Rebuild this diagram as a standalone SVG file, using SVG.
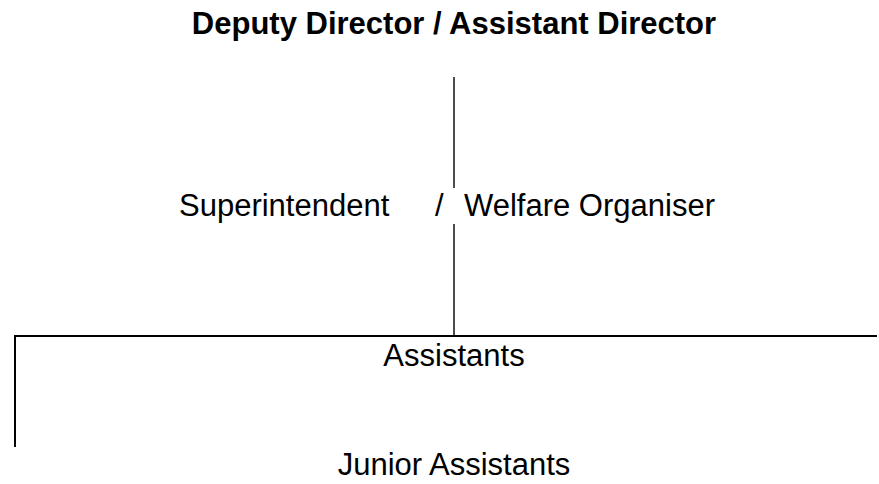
<svg xmlns="http://www.w3.org/2000/svg" width="879" height="484" viewBox="0 0 879 484">
<style>
text{font-family:"Liberation Sans",Arial,sans-serif;font-size:31px;fill:#000}
.b{font-weight:bold}
.c{text-anchor:middle}
.ln{stroke:#000;fill:none}
.thin{stroke-width:1.4}
.thick{stroke-width:2}
</style>
<rect width="879" height="484" fill="#fff"/>
<g id="connectors">
<line class="ln thin" x1="454" y1="77" x2="454" y2="188"/>
<line class="ln thin" x1="454" y1="224" x2="454" y2="336"/>
<line class="ln thick" x1="14" y1="336" x2="877" y2="336"/>
<line class="ln thick" x1="15" y1="335" x2="15" y2="447"/>
</g>
<g id="deputy-director">
<text class="b c" x="454" y="34">Deputy Director / Assistant Director</text>
</g>
<g id="superintendent">
<text x="179" y="216">Superintendent</text>
<text x="435" y="216">/</text>
<text x="464" y="216">Welfare Organiser</text>
</g>
<g id="assistants">
<text class="c" x="454" y="366">Assistants</text>
</g>
<g id="junior-assistants">
<text class="c" x="454" y="475">Junior Assistants</text>
</g>
</svg>
